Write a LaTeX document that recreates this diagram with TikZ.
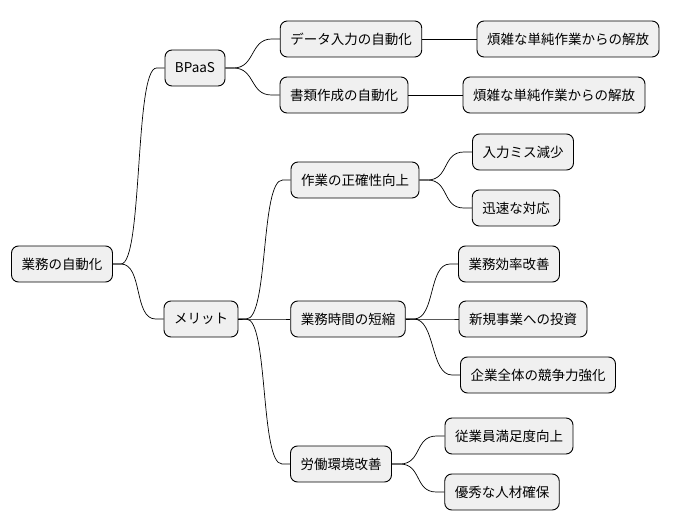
\documentclass[tikz,border=0pt]{standalone}
\usepackage{fontspec}
\setmainfont{Noto Sans CJK JP}
\tikzset{
  topic/.style={draw=black, line width=0.9pt, fill=black!6, rounded corners=7pt,
                minimum height=36pt, inner xsep=10pt, font=\fontsize{13.5}{16}\selectfont},
  branch/.style={line width=0.7pt, black}
}
\newcommand{\branchto}[2]{\draw[branch] (#1.east) -- ++(8,0) .. controls +(22,0) and +(-22,0) .. ([xshift=-8pt]#2.west) -- (#2.west);}
\begin{document}
\begin{tikzpicture}[x=1pt, y=-1pt]
  \useasboundingbox (0,0) rectangle (673,527);
  \node[topic] (root) at (62,264) {業務の自動化};
  \node[topic] (bpaas) at (195,68) {BPaaS};
  \node[topic] (data) at (351,39) {データ入力の自動化};
  \node[topic] (free1) at (568,39) {煩雑な単純作業からの解放};
  \node[topic] (docs) at (344,95) {書類作成の自動化};
  \node[topic] (free2) at (554,95) {煩雑な単純作業からの解放};
  \node[topic] (merit) at (201,319) {メリット};
  \node[topic] (acc) at (355,180) {作業の正確性向上};
  \node[topic] (miss) at (523,152) {入力ミス減少};
  \node[topic] (quick) at (516,208) {迅速な対応};
  \node[topic] (time) at (348,319) {業務時間の短縮};
  \node[topic] (eff) at (509,264) {業務効率改善};
  \node[topic] (inv) at (523,319) {新規事業への投資};
  \node[topic] (comp) at (538,375) {企業全体の競争力強化};
  \node[topic] (env) at (341,464) {労働環境改善};
  \node[topic] (sat) at (509,436) {従業員満足度向上};
  \node[topic] (hire) at (502,492) {優秀な人材確保};

  \branchto{root}{bpaas}
  \branchto{root}{merit}
  \branchto{bpaas}{data}
  \branchto{bpaas}{docs}
  \draw[branch] (data.east) -- (free1.west);
  \draw[branch] (docs.east) -- (free2.west);
  \branchto{merit}{acc}
  \branchto{merit}{time}
  \branchto{merit}{env}
  \branchto{acc}{miss}
  \branchto{acc}{quick}
  \branchto{time}{eff}
  \branchto{time}{inv}
  \branchto{time}{comp}
  \branchto{env}{sat}
  \branchto{env}{hire}
\end{tikzpicture}
\end{document}
